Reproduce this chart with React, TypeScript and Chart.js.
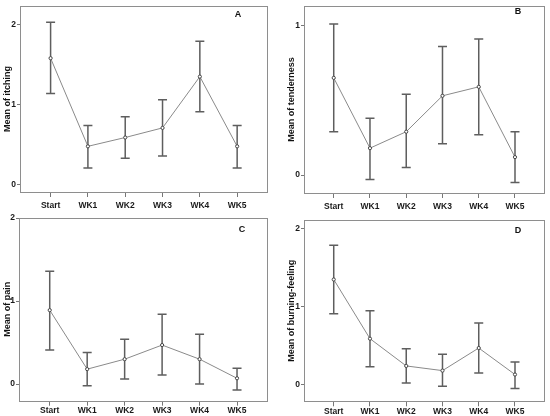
import React, { useEffect, useRef } from "react";
import { Chart, registerables } from "chart.js";

Chart.register(...registerables);

const categories = ["Start", "WK1", "WK2", "WK3", "WK4", "WK5"];

const itchingMean = [1.58, 0.48, 0.59, 0.71, 1.35, 0.48];
const itchingUpper = [2.03, 0.74, 0.85, 1.06, 1.79, 0.74];
const itchingLower = [1.14, 0.21, 0.33, 0.36, 0.91, 0.21];

const tendernessMean = [0.65, 0.18, 0.29, 0.53, 0.59, 0.12];
const tendernessUpper = [1.01, 0.38, 0.54, 0.86, 0.91, 0.29];
const tendernessLower = [0.29, -0.03, 0.05, 0.21, 0.27, -0.05];

const painMean = [0.89, 0.18, 0.3, 0.47, 0.3, 0.07];
const painUpper = [1.36, 0.38, 0.54, 0.84, 0.6, 0.19];
const painLower = [0.41, -0.02, 0.06, 0.11, 0.0, -0.07];

const burningMean = [1.35, 0.59, 0.24, 0.18, 0.47, 0.13];
const burningUpper = [1.79, 0.95, 0.46, 0.39, 0.79, 0.29];
const burningLower = [0.91, 0.23, 0.02, -0.02, 0.15, -0.05];

const ticksTwo = [0, 1, 2];
const ticksOne = [0, 1];

type Panel = {
  mean: number[];
  upper: number[];
  lower: number[];
  title: string;
  letter: string;
  yMin: number;
  yMax: number;
  yTicks: number[];
  box: { left: number; top: number; width: number; height: number };
  padLeft: number;
  padRight: number;
  padTop: number;
  yAxisWidth: number;
  xAxisHeight: number;
  xTickPad: number;
  letterDx: number;
  letterDy: number;
};

const panels: Panel[] = [
  {
    mean: itchingMean, upper: itchingUpper, lower: itchingLower,
    title: "Mean of itching", letter: "A",
    yMin: -0.09, yMax: 2.23, yTicks: ticksTwo,
    box: { left: 0, top: 0, width: 275, height: 214 },
    padLeft: 0, padRight: 8, padTop: 3, yAxisWidth: 20, xAxisHeight: 22, xTickPad: 4,
    letterDx: 29, letterDy: 8,
  },
  {
    mean: tendernessMean, upper: tendernessUpper, lower: tendernessLower,
    title: "Mean of tenderness", letter: "B",
    yMin: -0.12, yMax: 1.13, yTicks: ticksOne,
    box: { left: 275, top: 0, width: 275, height: 214 },
    padLeft: 9, padRight: 6, padTop: 3, yAxisWidth: 20, xAxisHeight: 21, xTickPad: 4,
    letterDx: 26, letterDy: 5,
  },
  {
    mean: painMean, upper: painUpper, lower: painLower,
    title: "Mean of pain", letter: "C",
    yMin: -0.2, yMax: 2.0, yTicks: ticksTwo,
    box: { left: 0, top: 208, width: 275, height: 208 },
    padLeft: 0, padRight: 8, padTop: 10, yAxisWidth: 19, xAxisHeight: 15.3, xTickPad: 0,
    letterDx: 25, letterDy: 12,
  },
  {
    mean: burningMean, upper: burningUpper, lower: burningLower,
    title: "Mean of burning-feeling", letter: "D",
    yMin: -0.214, yMax: 2.11, yTicks: ticksTwo,
    box: { left: 275, top: 208, width: 275, height: 208 },
    padLeft: 9, padRight: 6, padTop: 12.3, yAxisWidth: 20, xAxisHeight: 14.7, xTickPad: 0,
    letterDx: 26, letterDy: 10,
  },
];

const FONT = "'Liberation Sans', Arial, sans-serif";

function PanelChart({ p }: { p: Panel }) {
  const ref = useRef<HTMLCanvasElement | null>(null);
  useEffect(() => {
    if (!ref.current) return;
    const errPlugin = {
      id: "errFrame",
      beforeDatasetsDraw(chart: any) {
        const { ctx, chartArea, scales } = chart;
        const xs = scales.x;
        const ys = scales.y;
        ctx.save();
        // frame
        ctx.strokeStyle = "#8e8e8e";
        ctx.lineWidth = 1;
        ctx.strokeRect(
          Math.round(chartArea.left) + 0.5,
          Math.round(chartArea.top) + 0.5,
          Math.round(chartArea.right - chartArea.left),
          Math.round(chartArea.bottom - chartArea.top)
        );
        // error bars
        ctx.strokeStyle = "#5e5e5e";
        ctx.lineWidth = 1.5;
        const cap = 4.5;
        for (let i = 0; i < p.mean.length; i++) {
          const x = xs.getPixelForValue(i);
          const yt = ys.getPixelForValue(p.upper[i]);
          const yb = ys.getPixelForValue(p.lower[i]);
          ctx.beginPath();
          ctx.moveTo(x, yt);
          ctx.lineTo(x, yb);
          ctx.moveTo(x - cap, yt);
          ctx.lineTo(x + cap, yt);
          ctx.moveTo(x - cap, yb);
          ctx.lineTo(x + cap, yb);
          ctx.stroke();
        }
        // panel letter
        ctx.fillStyle = "#111";
        ctx.font = `bold 9px ${FONT}`;
        ctx.textAlign = "center";
        ctx.textBaseline = "middle";
        ctx.fillText(p.letter, chartArea.right - p.letterDx, chartArea.top + p.letterDy);
        ctx.restore();
      },
    };
    const chart = new Chart(ref.current, {
      type: "line",
      data: {
        datasets: [
          {
            data: p.mean.map((v, i) => ({ x: i, y: v })),
            borderColor: "#8a8a8a",
            borderWidth: 1,
            pointRadius: 1.6,
            pointBorderWidth: 1,
            pointBackgroundColor: "#ffffff",
            pointBorderColor: "#444444",
            tension: 0,
          },
        ],
      },
      options: {
        animation: false,
        responsive: false,
        maintainAspectRatio: false,
        events: [],
        layout: { padding: { left: p.padLeft, right: p.padRight, top: p.padTop, bottom: 0 } },
        plugins: { legend: { display: false }, tooltip: { enabled: false }, title: { display: false } },
        scales: {
          x: {
            type: "linear",
            min: -0.82,
            max: 5.8,
            afterBuildTicks: (scale: any) => {
              scale.ticks = categories.map((_, i) => ({ value: i }));
            },
            afterFit: (scale: any) => {
              scale.height = p.xAxisHeight;
            },
            grid: { drawOnChartArea: false, drawTicks: true, tickLength: 5, color: "#777", lineWidth: 1 },
            border: { display: false },
            ticks: {
              autoSkip: false,
              maxRotation: 0,
              minRotation: 0,
              padding: p.xTickPad,
              color: "#1a1a1a",
              font: { family: FONT, size: 8.5, weight: "bold" },
              callback: (v: any) => categories[Math.round(Number(v))] ?? "",
            },
          },
          y: {
            type: "linear",
            min: p.yMin,
            max: p.yMax,
            afterBuildTicks: (scale: any) => {
              scale.ticks = p.yTicks.map((v) => ({ value: v }));
            },
            afterFit: (scale: any) => {
              scale.width = p.yAxisWidth;
            },
            grid: { drawOnChartArea: false, drawTicks: true, tickLength: 3, color: "#777", lineWidth: 1 },
            border: { display: false },
            ticks: {
              padding: 1,
              color: "#1a1a1a",
              font: { family: FONT, size: 8.5, weight: "bold" },
              callback: (v: any) => String(v),
            },
            title: {
              display: true,
              text: p.title,
              color: "#111",
              padding: { top: 2, bottom: 0 },
              font: { family: FONT, size: 9, weight: "bold" },
            },
          },
        },
      },
      plugins: [errPlugin],
    } as any);
    return () => chart.destroy();
  }, [p]);
  return (
    <canvas
      ref={ref}
      width={p.box.width}
      height={p.box.height}
      style={{
        position: "absolute",
        left: p.box.left,
        top: p.box.top,
        width: p.box.width,
        height: p.box.height,
      }}
    />
  );
}

export default function App() {
  return (
    <div
      style={{
        position: "fixed",
        left: 0,
        top: 0,
        width: 550,
        height: 416,
        background: "#ffffff",
        overflow: "hidden",
      }}
    >
      {panels.map((p) => (
        <PanelChart key={p.letter} p={p} />
      ))}
    </div>
  );
}
